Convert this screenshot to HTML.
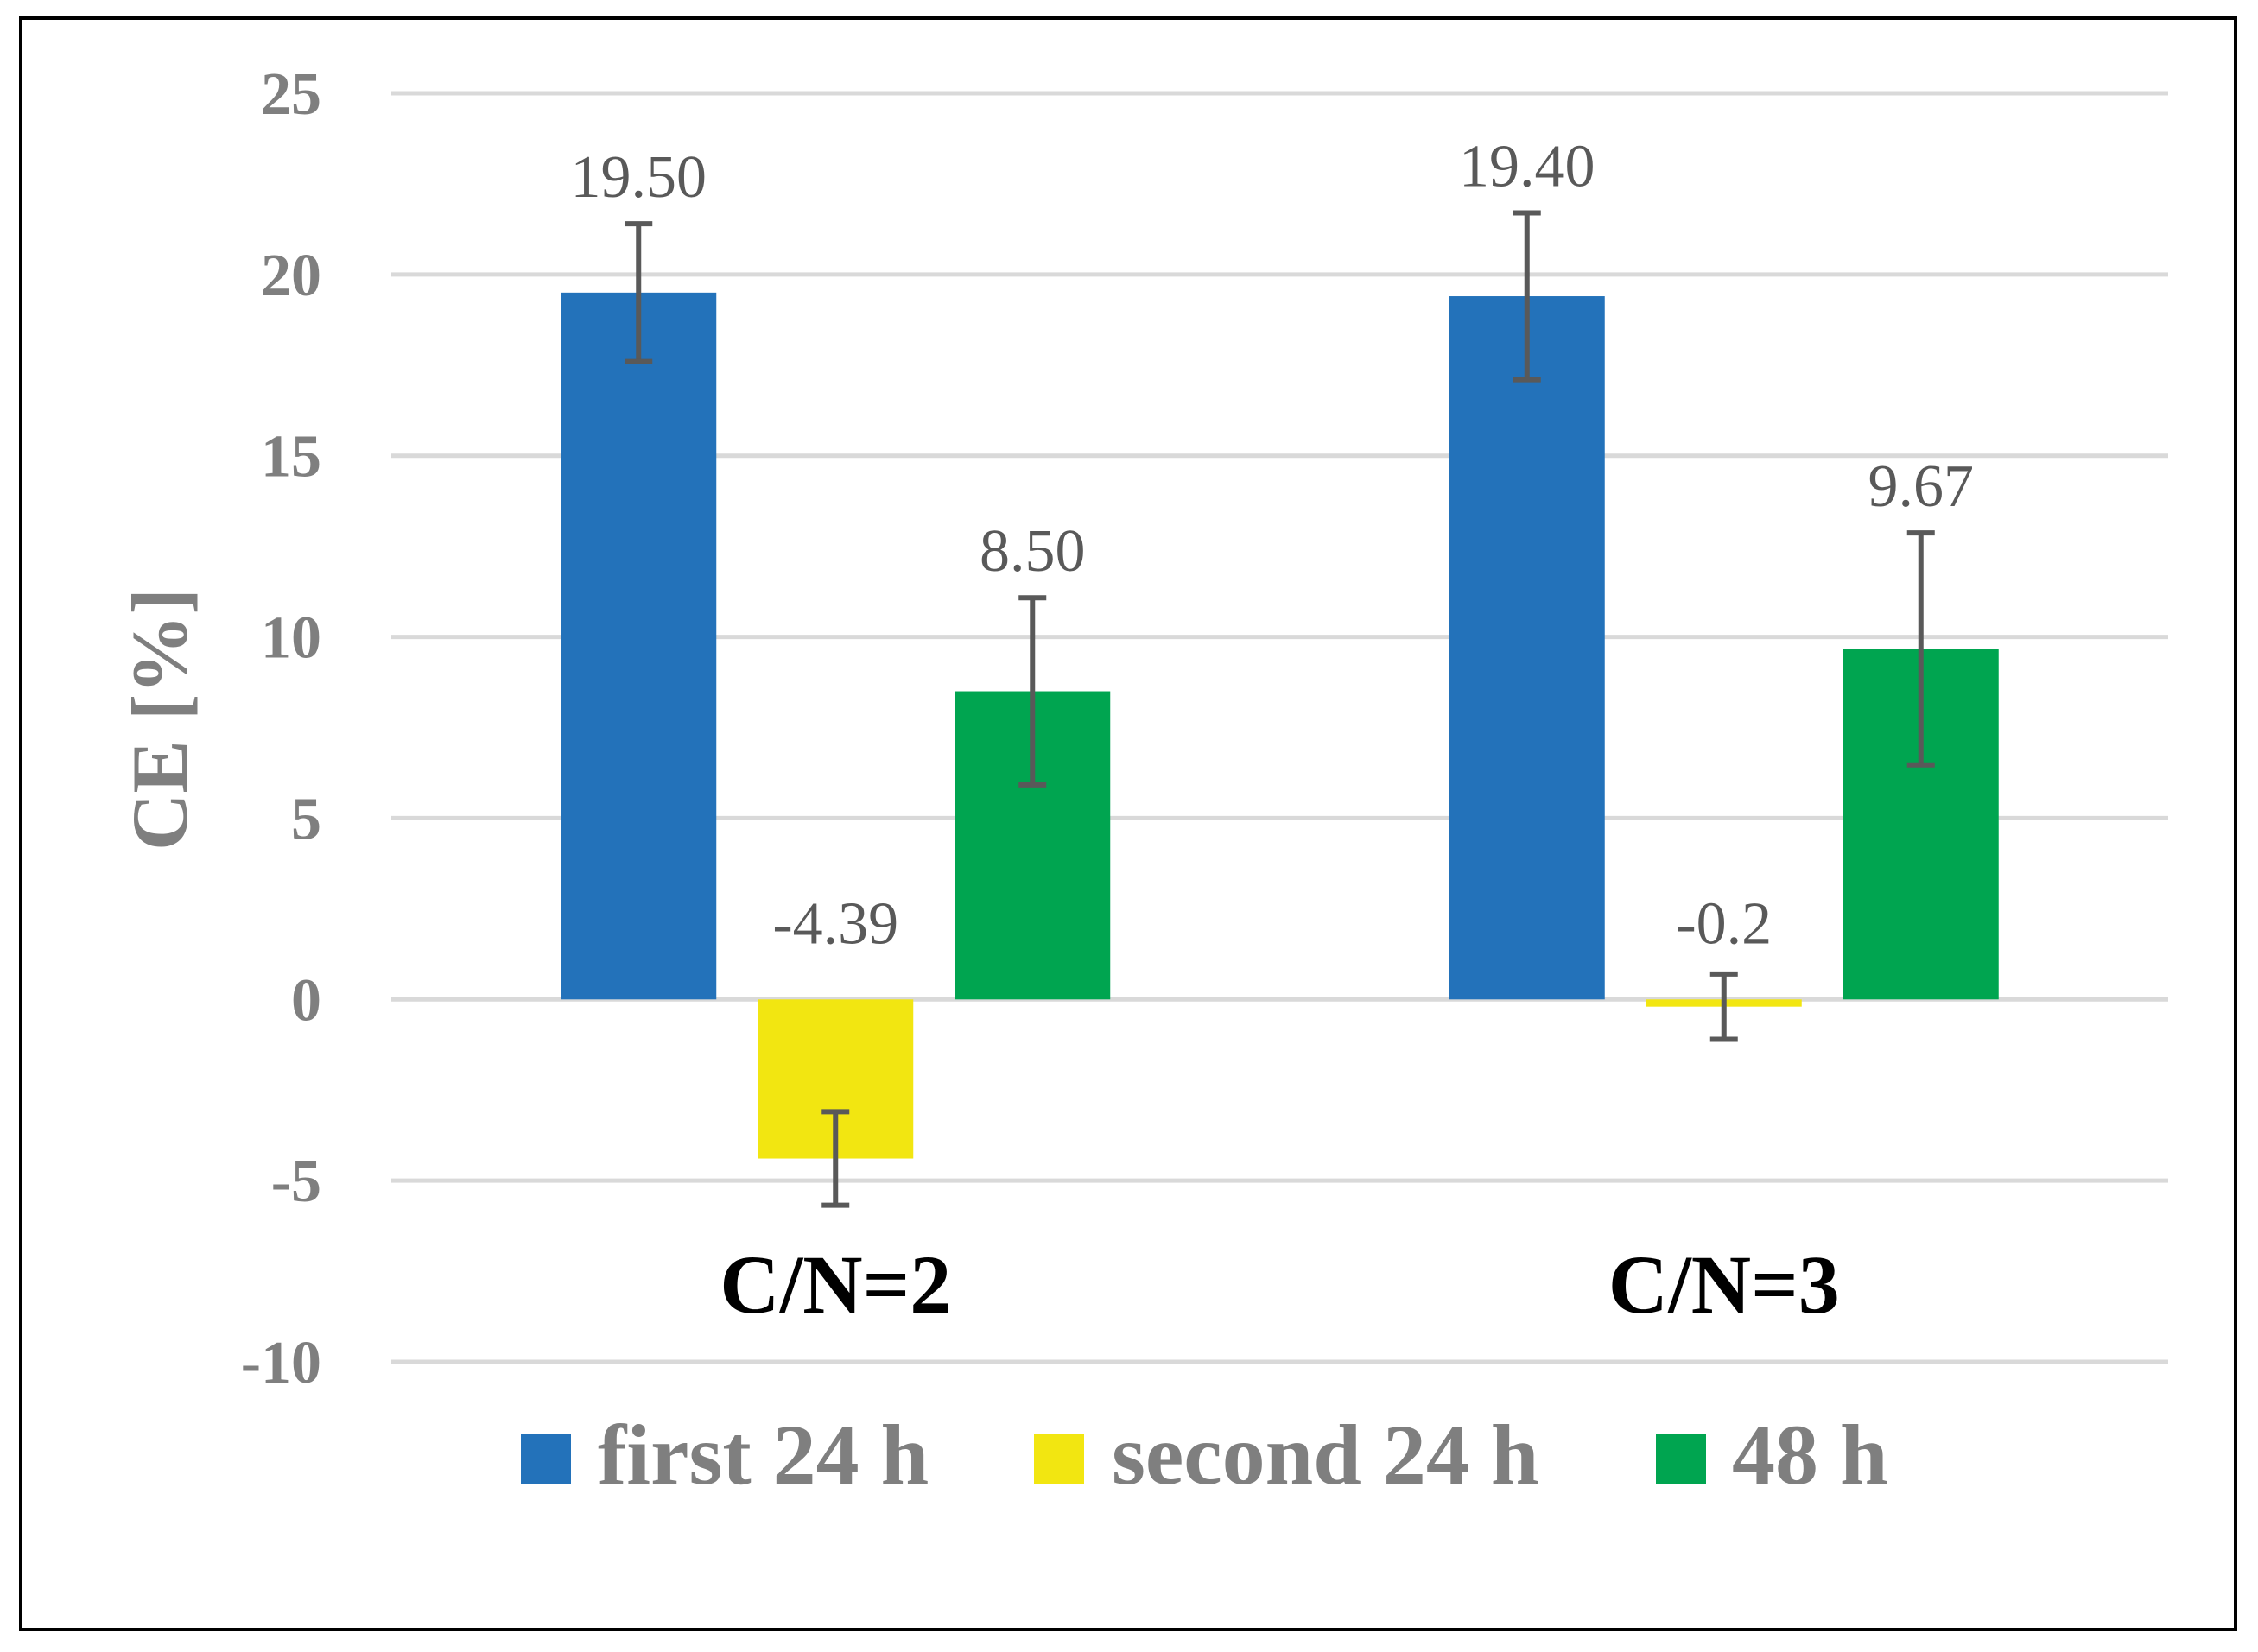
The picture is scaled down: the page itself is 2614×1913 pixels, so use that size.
<!DOCTYPE html>
<html><head><meta charset="utf-8"><style>
html,body{margin:0;padding:0;background:#fff}
svg{display:block}
</style></head><body>
<svg id="chart" width="2614" height="1913" viewBox="0 0 2614 1913" xmlns="http://www.w3.org/2000/svg" font-family="'Liberation Serif', serif">
<rect x="24" y="21" width="2564" height="1866" fill="#fff" stroke="#000" stroke-width="4"/>
<g id="grid"></g><g id="bars"></g><g id="errs"></g><g id="labels"></g>
<text transform="translate(216,833) rotate(-90)" text-anchor="middle" font-size="92" font-weight="bold" fill="#7f7f7f">CE [%]</text>
<g>
<rect x="603" y="1660" width="58" height="58" fill="#2372BA"/>
<text x="692" y="1718" font-size="100" font-weight="bold" fill="#7f7f7f">first 24 h</text>
<rect x="1197" y="1660" width="58" height="58" fill="#F2E611"/>
<text x="1287" y="1718" font-size="100" font-weight="bold" fill="#7f7f7f">second 24 h</text>
<rect x="1917" y="1660" width="58" height="58" fill="#00A550"/>
<text x="2005" y="1718" font-size="100" font-weight="bold" fill="#7f7f7f">48 h</text>
</g>
</svg>
<script>
const categories = ["C/N=2", "C/N=3"];
const seriesNames = ["first 24 h", "second 24 h", "48 h"];
const first24 = [19.50, 19.40];
const second24 = [-4.39, -0.2];
const h48 = [8.50, 9.67];
const first24Err = [1.9, 2.3];
const second24Err = [1.29, 0.9];
const h48Err = [2.58, 3.2];
const valueLabels = [["19.50","19.40"],["-4.39","-0.2"],["8.50","9.67"]];
const yTicks = [25,20,15,10,5,0,-5,-10];

const NS="http://www.w3.org/2000/svg";
const yMin=-10,yMax=25,yTop=108,yBot=1577;
const y=v=>yBot-(v-yMin)/(yMax-yMin)*(yBot-yTop);
const plotL=453,plotR=2510;
const groupW=(plotR-plotL)/categories.length;
const barW=180,barStep=228;
const gx=(ci,si)=>plotL+groupW*ci+groupW/2+(si-1)*barStep;
const colors=["#2372BA","#F2E611","#00A550"];
const series=[first24,second24,h48], errs=[first24Err,second24Err,h48Err];
function mk(tag,attrs,parent){const e=document.createElementNS(NS,tag);for(const k in attrs)e.setAttribute(k,attrs[k]);parent.appendChild(e);return e;}
const G=document.getElementById('grid'),B=document.getElementById('bars'),E=document.getElementById('errs'),L=document.getElementById('labels');
yTicks.forEach(t=>{
  const l=mk('line',{x1:plotL,x2:plotR,y1:y(t),y2:y(t),stroke:'#d9d9d9','stroke-width':5},G);
  
  
  const tx=mk('text',{x:372,y:y(t)+24,'text-anchor':'end','font-size':70,'font-weight':'bold',fill:'#7f7f7f'},L);
  tx.textContent=t;
  
  
});
categories.forEach((c,ci)=>{
  series.forEach((s,si)=>{
    const v=s[ci],cx=gx(ci,si);
    const top=Math.min(y(v),y(0)),h=Math.abs(y(v)-y(0));
    const r=mk('rect',{x:cx-barW/2,y:top,width:barW,height:h,fill:colors[si]},B);
    
    
    const e=errs[si][ci],y1=y(v+e),y2=y(v-e);
    const g=mk('g',{stroke:'#595959','stroke-width':6},E);
    
    
    mk('line',{x1:cx,x2:cx,y1:y1,y2:y2},g);
    mk('line',{x1:cx-16,x2:cx+16,y1:y1,y2:y1},g);
    mk('line',{x1:cx-16,x2:cx+16,y1:y2,y2:y2},g);
    const ly = v<0 ? y(0)-65 : y1-31;
    const t=mk('text',{x:cx,y:ly,'text-anchor':'middle','font-size':70,fill:'#595959'},L);
    t.textContent=valueLabels[si][ci];
    
    
  });
  const ct=mk('text',{x:gx(ci,1),y:1520,'text-anchor':'middle','font-size':96,'font-weight':'bold',fill:'#000'},L);
  ct.textContent=c;
  
  
});
</script>
</body></html>
